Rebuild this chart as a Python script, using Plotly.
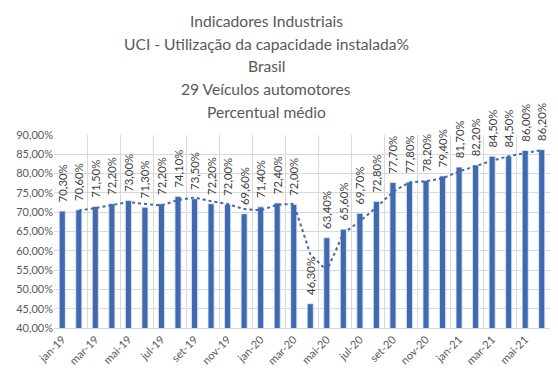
import plotly.graph_objects as go

meses = ["jan-19","fev-19","mar-19","abr-19","mai-19","jun-19","jul-19","ago-19","set-19","out-19","nov-19","dez-19",
         "jan-20","fev-20","mar-20","abr-20","mai-20","jun-20","jul-20","ago-20","set-20","out-20","nov-20","dez-20",
         "jan-21","fev-21","mar-21","abr-21","mai-21","jun-21"]
uci = [0.703,0.706,0.715,0.722,0.730,0.713,0.722,0.741,0.735,0.722,0.720,0.696,
       0.714,0.724,0.720,0.463,0.634,0.656,0.697,0.728,0.777,0.778,0.782,0.794,
       0.817,0.822,0.845,0.845,0.860,0.862]
# Excel 2-period moving-average trendline (starts at the second month)
media_movel = [None] + [(uci[i-1] + uci[i]) / 2 for i in range(1, len(uci))]

y_ticks = [0.40,0.45,0.50,0.55,0.60,0.65,0.70,0.75,0.80,0.85,0.90]
titulo = ["Indicadores Industriais",
          "UCI - Utilização da capacidade instalada%",
          "Brasil",
          "29 Veículos automotores",
          "Percentual médio"]

x = list(range(len(meses)))
azul = "#4169B0"
cinza = "#595959"
fonte = "Lato"

# the page body adds an 8px margin, so the figure is drawn 8px smaller
OFF = 8
W, H = 558 - OFF, 387 - OFF
ML, MR, MT, MB = 54 - OFF, 8, 135 - OFF, 59
plot_h = H - MT - MB
plot_w = W - ML - MR

fig = go.Figure()
fig.add_trace(go.Bar(x=x, y=uci, marker_color=azul, width=0.37, cliponaxis=True,
                     hoverinfo="skip", showlegend=False))
fig.add_trace(go.Bar(x=x, y=uci, marker_color="rgba(0,0,0,0)", width=0.37, cliponaxis=False,
                     texttemplate="\u00a0\u00a0%{y:.2%}", textposition="outside", textangle=-90,
                     constraintext="none",
                     textfont=dict(family=fonte, size=11.3, color="#404040"),
                     showlegend=False))
fig.add_trace(go.Scatter(x=x, y=media_movel, mode="lines",
                         line=dict(color=azul, width=2, dash="dot"),
                         showlegend=False, cliponaxis=True))

# title lines (centre positions in page pixels converted to paper coords)
centros_y = [21, 44, 66, 89, 112]
cx = 266
for linha, py in zip(titulo, centros_y):
    fig.add_annotation(text=linha, showarrow=False, xref="paper", yref="paper",
                       x=(cx - OFF - ML) / plot_w, y=1 + (MT - (py - OFF)) / plot_h,
                       xanchor="center", yanchor="middle",
                       font=dict(family=fonte, size=15.6, color=cinza))

fig.update_layout(
    width=W, height=H,
    separators=",.",
    barmode="overlay",
    paper_bgcolor="white", plot_bgcolor="white",
    margin=dict(l=ML, r=MR, t=MT, b=MB),
    font=dict(family=fonte, color=cinza),
)
fig.update_xaxes(range=[-0.5, len(meses) - 0.5], automargin=False,
                 tickvals=x[::2], ticktext=meses[::2], tickangle=-45,
                 tickfont=dict(size=11, color=cinza),
                 showgrid=False, showline=True, linecolor="#D9D9D9",
                 ticks="", zeroline=False,
                 minor=dict(tick0=-0.5, dtick=2, showgrid=True, gridcolor="#D9D9D9", gridwidth=1))
fig.update_yaxes(range=[0.40, 0.90], tickvals=y_ticks, tickformat=".2%", automargin=False,
                 tickfont=dict(size=11, color=cinza),
                 showgrid=True, gridcolor="#D9D9D9", zeroline=False, showline=False)

fig.write_html("out.html")
